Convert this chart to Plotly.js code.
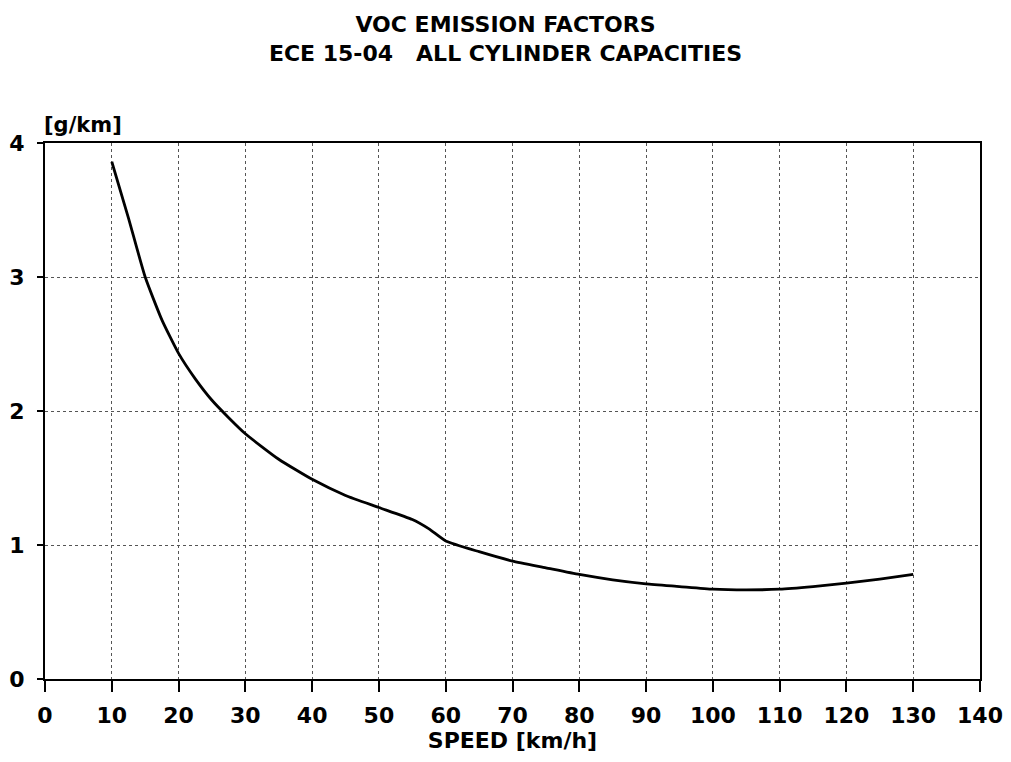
<!DOCTYPE html>
<html>
<head>
<meta charset="utf-8">
<script src="https://cdn.plot.ly/plotly-3.0.1.min.js"></script>
<style>html,body{margin:0;padding:0;background:#fff;}#chart{width:1011px;height:762px;}</style>
</head>
<body>
<div id="chart"></div>
<script>
const speed = [10,12.5,15,17.5,20,22.5,25,27.5,30,35,40,45,50,55,57.5,60,65,70,75,80,85,90,95,100,105,110,115,120,125,130];
const voc = [3.86,3.44,3.0,2.68,2.43,2.24,2.08,1.95,1.83,1.64,1.49,1.37,1.28,1.19,1.12,1.03,0.95,0.88,0.83,0.78,0.74,0.71,0.69,0.67,0.665,0.67,0.69,0.715,0.745,0.78];
const xTicks = [0,10,20,30,40,50,60,70,80,90,100,110,120,130,140];
const yTicks = [0,1,2,3,4];
const titleText = "<b>VOC EMISSION FACTORS<br>ECE 15-04   ALL CYLINDER CAPACITIES</b>";
const xTitle = "<b>SPEED [km/h]</b>";
const yUnit = "<b>[g/km]</b>";

const font = "DejaVu Sans, Verdana, sans-serif";

Plotly.newPlot('chart', [{
  x: speed, y: voc, type: 'scatter', mode: 'lines',
  line: {color: '#000', width: 2.8, shape: 'spline', smoothing: 0.5},
  hoverinfo: 'skip'
}], {
  width: 1011, height: 762,
  margin: {l: 45, r: 31, t: 143, b: 83},
  paper_bgcolor: '#fff', plot_bgcolor: '#fff',
  showlegend: false,
  title: {text: titleText, x: 0.5, xanchor: 'center', xref: 'container',
          y: 0.958, yanchor: 'top', yref: 'container',
          font: {family: font, size: 22, color: '#000'}},
  xaxis: {
    range: [0, 140], tickvals: xTicks, ticktext: xTicks.map(String),
    showgrid: true, gridcolor: '#555', griddash: 'dot', gridwidth: 1,
    showline: true, linecolor: '#000', linewidth: 2, mirror: true,
    ticks: 'outside', ticklen: 11, tickwidth: 2, tickcolor: '#000',
    ticklabelstandoff: 5,
    zeroline: false,
    tickfont: {family: font, size: 22, color: '#000', weight: 'bold'},
    title: {text: xTitle, font: {family: font, size: 22, color: '#000'}, standoff: 4}
  },
  yaxis: {
    range: [0, 4], tickvals: yTicks, ticktext: yTicks.map(String),
    showgrid: true, gridcolor: '#555', griddash: 'dot', gridwidth: 1,
    showline: true, linecolor: '#000', linewidth: 2, mirror: true,
    ticks: 'outside', ticklen: 6, tickwidth: 1.5, tickcolor: '#000',
    ticklabelstandoff: 8,
    zeroline: false,
    tickfont: {family: font, size: 22, color: '#000', weight: 'bold'}
  },
  annotations: [{
    text: yUnit, xref: 'paper', yref: 'paper', x: 0, xshift: -3, y: 1.0, yshift: 18,
    xanchor: 'left', yanchor: 'middle', showarrow: false,
    font: {family: font, size: 21, color: '#000'}
  }]
}, {displayModeBar: false, staticPlot: true});
</script>
</body>
</html>
